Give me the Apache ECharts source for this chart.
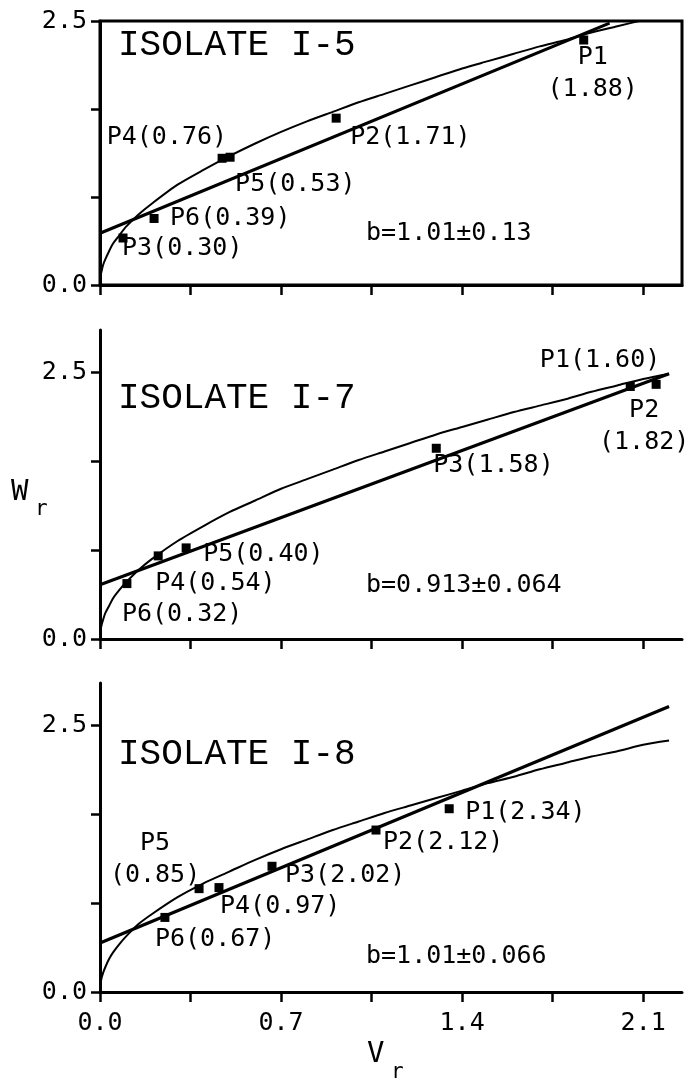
<!DOCTYPE html>
<html>
<head>
<meta charset="utf-8">
<script src="https://cdn.jsdelivr.net/npm/echarts@6/dist/echarts.min.js"></script>
<style>
html, body { margin: 0; padding: 0; background: #fff; }
#main { width: 687px; height: 1085px; }
</style>
</head>
<body>
<div id="main"></div>
<script>
// axis ticks (V_r shared, W_r same for every panel)
var xTicks = [0, 0.35, 0.7, 1.05, 1.4, 1.75, 2.1];
var xTickLabels = [0, 0.7, 1.4, 2.1];
var yTicks = [0, 0.8333, 1.6667, 2.5];
var yTickLabels = [0, 2.5];

var titles = ['ISOLATE I-5', 'ISOLATE I-7', 'ISOLATE I-8'];
var slopeTexts = ['b=1.01±0.13', 'b=0.913±0.064', 'b=1.01±0.066'];

var curveX = [0, 0.002, 0.006, 0.012, 0.02, 0.035, 0.05, 0.075, 0.1, 0.15, 0.2, 0.3, 0.4, 0.5, 0.6, 0.7,
    0.8, 0.9, 1.0, 1.1, 1.2, 1.3, 1.4, 1.5, 1.6, 1.7, 1.8, 1.9, 2.0, 2.1, 2.2];

// ISOLATE I-5
var i5Names = ['P1\n(1.88)', 'P2(1.71)', 'P3(0.30)', 'P4(0.76)', 'P5(0.53)', 'P6(0.39)'];
var i5X = [1.87, 0.913, 0.089, 0.472, 0.503, 0.209];
var i5Y = [2.32, 1.58, 0.445, 1.20, 1.21, 0.63];
var i5FitX = [0, 1.97];
var i5FitY = [0.49, 2.48];
var i5CurveY = [0, 0.08, 0.13, 0.19, 0.24, 0.32, 0.39, 0.47, 0.55, 0.67, 0.77, 0.95, 1.09, 1.22, 1.34, 1.45,
    1.55, 1.64, 1.73, 1.81, 1.89, 1.97, 2.05, 2.12, 2.19, 2.26, 2.32, 2.39, 2.45, 2.51, 2.57];

// ISOLATE I-7
var i7Names = ['P1(1.60)', 'P2\n(1.82)', 'P3(1.58)', 'P4(0.54)', 'P5(0.40)', 'P6(0.32)'];
var i7X = [2.05, 2.15, 1.30, 0.225, 0.333, 0.104];
var i7Y = [2.37, 2.39, 1.79, 0.78, 0.855, 0.52];
var i7FitX = [0, 2.2];
var i7FitY = [0.51, 2.49];
var i7CurveY = [0, 0.08, 0.13, 0.18, 0.24, 0.31, 0.38, 0.46, 0.53, 0.65, 0.75, 0.92, 1.06, 1.19, 1.30, 1.41,
    1.50, 1.59, 1.68, 1.76, 1.84, 1.92, 1.99, 2.06, 2.13, 2.19, 2.25, 2.32, 2.38, 2.44, 2.49];

// ISOLATE I-8
var i8Names = ['P1(2.34)', 'P2(2.12)', 'P3(2.02)', 'P4(0.97)', 'P5\n(0.85)', 'P6(0.67)'];
var i8X = [1.35, 1.067, 0.665, 0.46, 0.383, 0.251];
var i8Y = [1.72, 1.52, 1.18, 0.98, 0.97, 0.70];
var i8FitX = [0, 2.2];
var i8FitY = [0.46, 2.68];
var i8CurveY = [0, 0.07, 0.13, 0.18, 0.23, 0.31, 0.37, 0.45, 0.52, 0.64, 0.73, 0.89, 1.02, 1.13, 1.24, 1.34,
    1.43, 1.52, 1.60, 1.68, 1.75, 1.82, 1.89, 1.96, 2.02, 2.09, 2.15, 2.21, 2.26, 2.32, 2.36];

var FONT = '"DejaVu Sans Mono", "Liberation Mono", monospace';

// where each point label sits relative to its marker: [dx, dy, align]
var labelLayout = [
    [[9, 33, 'center'], [14, 19, 'left'], [-1, 10, 'left'], [5, -21, 'right'], [5, 27, 'left'], [16, 0, 'left']],
    [[30, -26, 'right'], [-12, 42, 'center'], [-3, 17, 'left'], [-3, 28, 'left'], [17, 7, 'left'], [-5, 31, 'left']],
    [[16, 4, 'left'], [7, 12, 'left'], [13, 9, 'left'], [1, 19, 'left'], [-44, -29, 'center'], [-10, 22, 'left']]
];

var panels = [
    {top: 21, height: 264, max: 2.5, box: true, names: i5Names, x: i5X, y: i5Y, fx: i5FitX, fy: i5FitY, cy: i5CurveY},
    {top: 330, height: 309, max: 2.9, box: false, names: i7Names, x: i7X, y: i7Y, fx: i7FitX, fy: i7FitY, cy: i7CurveY},
    {top: 683, height: 309, max: 2.9, box: false, names: i8Names, x: i8X, y: i8Y, fx: i8FitX, fy: i8FitY, cy: i8CurveY}
];

function zip(a, b) {
    var out = [];
    for (var i = 0; i < a.length; i++) {
        out.push([a[i], b[i]]);
    }
    return out;
}

var grids = [], xAxes = [], yAxes = [], series = [], graphics = [];

panels.forEach(function (p, k) {
    grids.push({
        left: 100, right: 5, top: p.top, height: p.height,
        show: p.box, borderColor: '#000', borderWidth: 3
    });
    xAxes.push({
        type: 'value', gridIndex: k, min: 0, max: 2.25,
        axisLine: {onZero: false, lineStyle: {color: '#000', width: 3}},
        axisTick: {show: true, length: 10, customValues: xTicks, lineStyle: {color: '#000', width: 2.5}},
        axisLabel: {
            show: k === 2, customValues: xTickLabels, margin: 19,
            color: '#000', fontFamily: FONT, fontSize: 25,
            formatter: function (v) { return v.toFixed(1); }
        },
        splitLine: {show: false}
    });
    yAxes.push({
        type: 'value', gridIndex: k, min: 0, max: p.max,
        axisLine: {onZero: false, lineStyle: {color: '#000', width: 3}},
        axisTick: {show: true, length: 9, customValues: yTicks, lineStyle: {color: '#000', width: 2.5}},
        axisLabel: {
            customValues: yTickLabels, margin: 13,
            color: '#000', fontFamily: FONT, fontSize: 25,
            formatter: function (v) { return v.toFixed(1); }
        },
        splitLine: {show: false}
    });

    series.push({
        type: 'line', xAxisIndex: k, yAxisIndex: k,
        data: zip(curveX, p.cy), smooth: 0.25,
        showSymbol: false, lineStyle: {color: '#000', width: 2}, silent: true
    });
    series.push({
        type: 'line', xAxisIndex: k, yAxisIndex: k,
        data: zip(p.fx, p.fy),
        showSymbol: false, lineStyle: {color: '#000', width: 3.2}, silent: true
    });

    var pts = p.x.map(function (xv, i) {
        var lay = labelLayout[k][i];
        return {
            value: [xv, p.y[i]],
            label: {offset: [lay[0], lay[1]], align: lay[2]}
        };
    });
    series.push({
        type: 'scatter', xAxisIndex: k, yAxisIndex: k, z: 5,
        symbol: 'rect', symbolSize: 9,
        itemStyle: {color: '#000', opacity: 1},
        data: pts,
        label: {
            show: true, position: 'inside', verticalAlign: 'middle',
            color: '#000', opacity: 1, textBorderWidth: 0,
            fontFamily: FONT, fontSize: 25, lineHeight: 32,
            formatter: function (d) { return p.names[d.dataIndex]; }
        }
    });
});

var titleY = [45, 398, 754];
var slopeY = [233, 585, 956];
titles.forEach(function (t, k) {
    graphics.push({
        type: 'text', x: 118, y: titleY[k],
        style: {text: t, fill: '#000', font: '36px "Liberation Mono", monospace', align: 'left', verticalAlign: 'middle'}
    });
    graphics.push({
        type: 'text', x: 366, y: slopeY[k],
        style: {text: slopeTexts[k], fill: '#000', font: '25px ' + FONT, align: 'left', verticalAlign: 'middle'}
    });
});
// axis names
graphics.push({type: 'text', x: 11, y: 492, style: {text: 'W', fill: '#000', font: '29px ' + FONT, verticalAlign: 'middle'}});
graphics.push({type: 'text', x: 35, y: 510, style: {text: 'r', fill: '#000', font: '21px ' + FONT, verticalAlign: 'middle'}});
graphics.push({type: 'text', x: 367, y: 1054, style: {text: 'V', fill: '#000', font: '29px ' + FONT, verticalAlign: 'middle'}});
graphics.push({type: 'text', x: 391, y: 1073, style: {text: 'r', fill: '#000', font: '21px ' + FONT, verticalAlign: 'middle'}});

var myChart = echarts.init(document.getElementById('main'), null, {renderer: 'canvas'});
var option = {
    backgroundColor: '#fff',
    animation: false,
    grid: grids,
    xAxis: xAxes,
    yAxis: yAxes,
    series: series,
    graphic: graphics
};
myChart.setOption(option);
</script>
</body>
</html>
